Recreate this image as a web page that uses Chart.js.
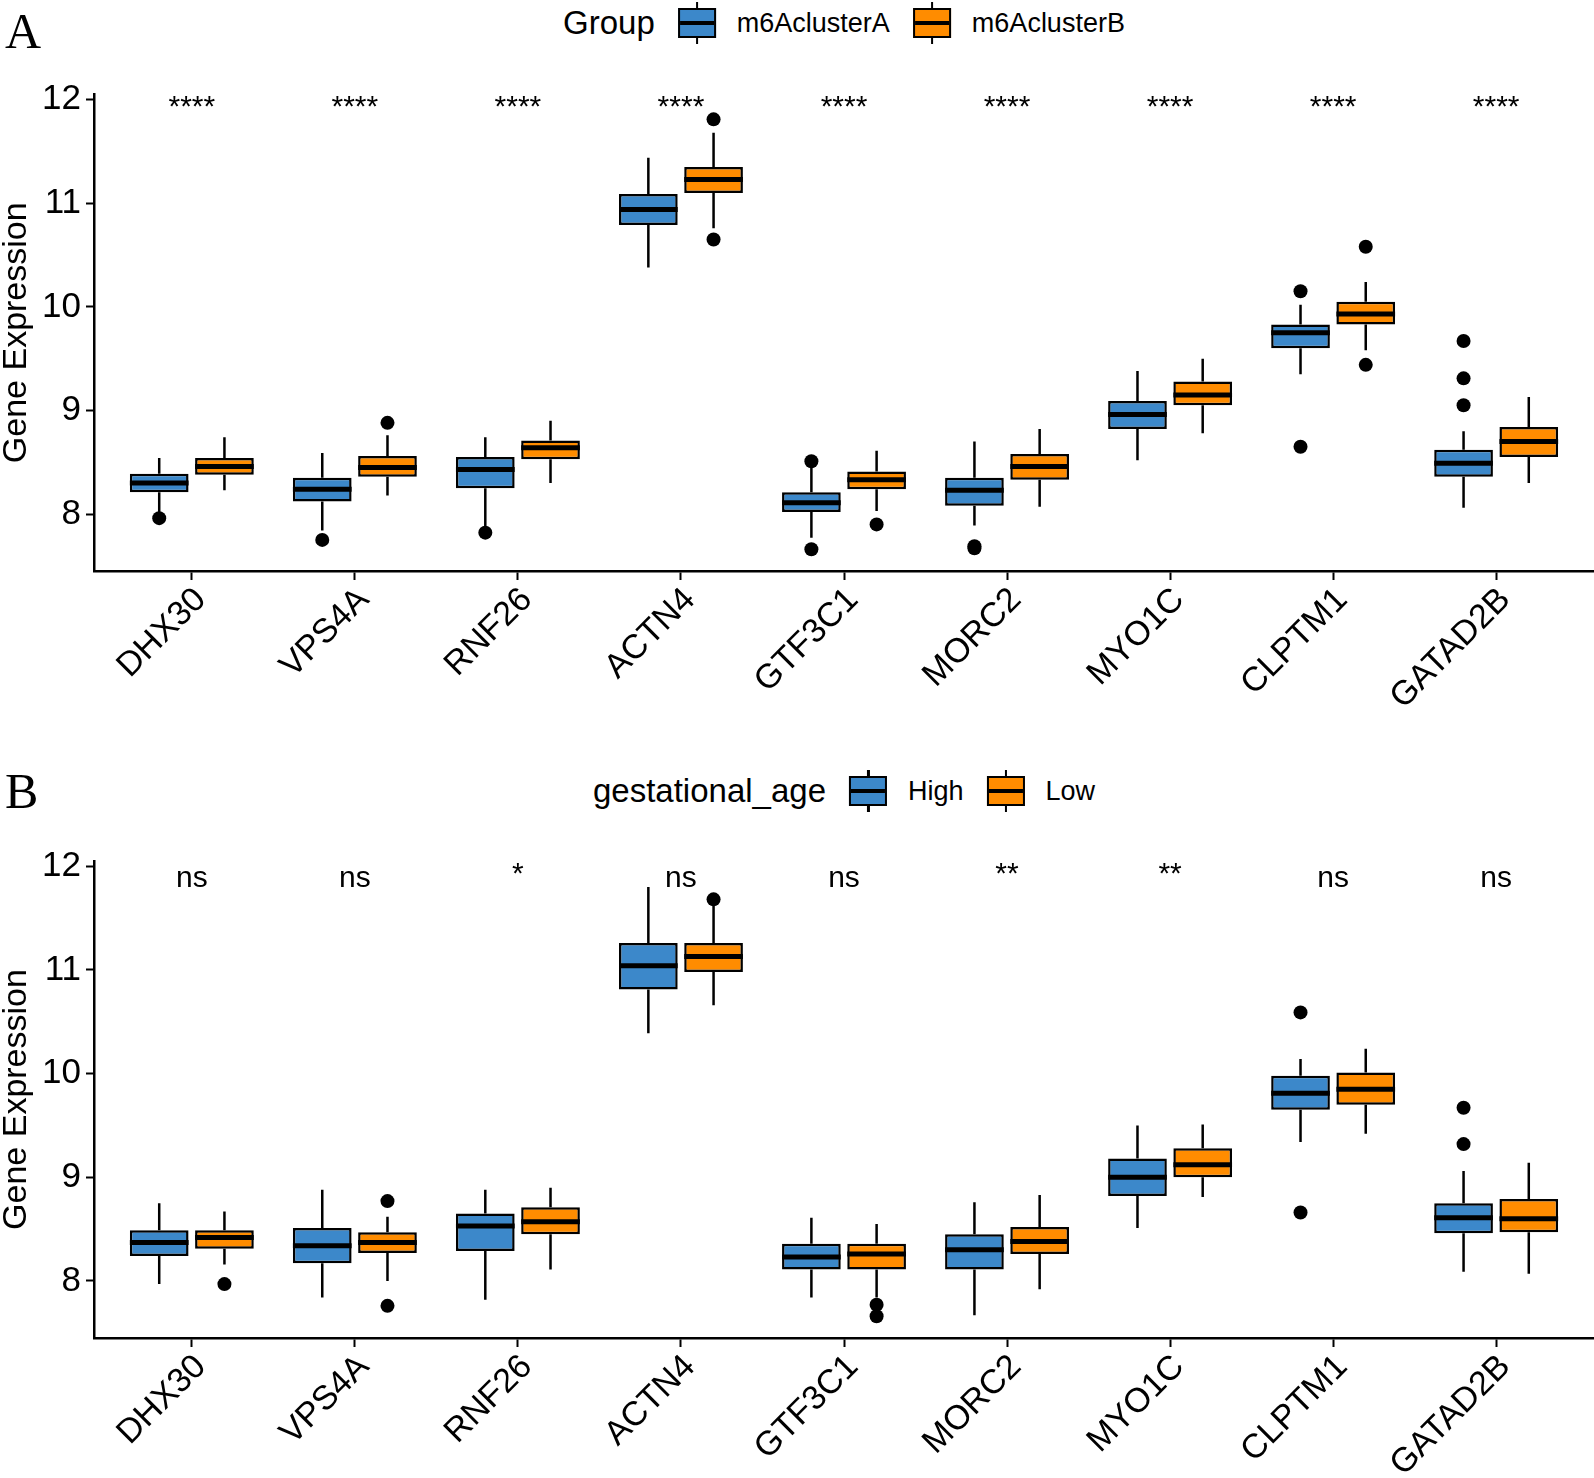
<!DOCTYPE html>
<html>
<head>
<meta charset="utf-8">
<script src="https://cdn.jsdelivr.net/npm/chart.js@4.4.0/dist/chart.umd.min.js"></script>
<style>
  body { margin: 0; background: #fff; font-family: 'Liberation Sans', Arial, sans-serif; }
  #page { position: relative; width: 1594px; height: 1478px; overflow: hidden; }
  canvas { position: absolute; left: 0; }
  .letter { position: absolute; left: 5px; font-family: 'Liberation Serif', 'Times New Roman', serif; font-size: 50px; line-height: 50px; color: #000; }
  .legend { position: absolute; left: 844px; transform: translateX(-50%); height: 46px; display: flex; align-items: center; white-space: nowrap; color: #000; }
  .legend .title { font-size: 33px; margin-right: 22px; }
  .legend .lab { font-size: 27px; margin-left: 20px; margin-right: 22px; }
  .legend .lab:last-child { margin-right: 0; }
  .key { position: relative; width: 40px; height: 46px; }
  .key .wh { position: absolute; left: 19px; width: 2.5px; top: 2px; bottom: 2px; background: #000; }
  .key .bx { position: absolute; left: 1px; right: 1px; top: 8px; bottom: 8px; border: 2.5px solid #000; box-sizing: border-box; }
  .key .md { position: absolute; left: 0; right: 0; top: 50%; height: 4px; margin-top: -2px; background: #000; }
</style>
</head>
<body>
<div id="page">
  <div class="letter" style="top:6px">A</div>
  <div class="legend" style="top:0px">
    <span class="title">Group</span>
    <div class="key"><div class="wh"></div><div class="bx" style="background:#3C88CA"><div class="md"></div></div></div>
    <span class="lab">m6AclusterA</span>
    <div class="key"><div class="wh"></div><div class="bx" style="background:#FF8C00"><div class="md"></div></div></div>
    <span class="lab">m6AclusterB</span>
  </div>
  <canvas id="chartA" width="1594" height="740" style="top:0px"></canvas>

  <div class="letter" style="top:766px">B</div>
  <div class="legend" style="top:768px">
    <span class="title">gestational_age</span>
    <div class="key"><div class="wh"></div><div class="bx" style="background:#3C88CA"><div class="md"></div></div></div>
    <span class="lab">High</span>
    <div class="key"><div class="wh"></div><div class="bx" style="background:#FF8C00"><div class="md"></div></div></div>
    <span class="lab">Low</span>
  </div>
  <canvas id="chartB" width="1594" height="738" style="top:740px"></canvas>
</div>

<script>
const genes = ['DHX30', 'VPS4A', 'RNF26', 'ACTN4', 'GTF3C1', 'MORC2', 'MYO1C', 'CLPTM1', 'GATAD2B'];
const yTicks = [8, 9, 10, 11, 12];

// panel A - m6AclusterA
const clusterA_min = [8.02, 7.84, 7.88, 10.38, 7.77, 7.89, 8.52, 9.35, 8.06];
const clusterA_q1  = [8.21, 8.12, 8.25, 10.79, 8.02, 8.08, 8.82, 9.60, 8.36];
const clusterA_med = [8.30, 8.24, 8.43, 10.94, 8.11, 8.23, 8.96, 9.75, 8.49];
const clusterA_q3  = [8.39, 8.35, 8.55, 11.09, 8.21, 8.35, 9.09, 9.83, 8.62];
const clusterA_max = [8.54, 8.59, 8.74, 11.44, 8.45, 8.70, 9.38, 10.02, 8.80];
const clusterA_out = [[7.96], [7.75], [7.82], [], [8.51, 7.66], [7.67, 7.69], [], [10.15, 8.65], [9.67, 9.31, 9.05]];

// panel A - m6AclusterB
const clusterB_min = [8.23, 8.18, 8.30, 10.76, 8.03, 8.07, 8.78, 9.58, 8.30];
const clusterB_q1  = [8.38, 8.36, 8.53, 11.10, 8.24, 8.33, 9.05, 9.83, 8.55];
const clusterB_med = [8.46, 8.45, 8.64, 11.23, 8.33, 8.46, 9.15, 9.93, 8.70];
const clusterB_q3  = [8.54, 8.56, 8.71, 11.35, 8.41, 8.58, 9.28, 10.05, 8.84];
const clusterB_max = [8.74, 8.76, 8.90, 11.68, 8.61, 8.82, 9.50, 10.24, 9.13];
const clusterB_out = [[], [8.88], [], [11.81, 10.65], [7.90], [], [], [10.58, 9.44], []];

// panel B - High
const high_min = [7.97, 7.84, 7.82, 10.39, 7.84, 7.67, 8.51, 9.34, 8.09];
const high_q1  = [8.24, 8.17, 8.29, 10.81, 8.11, 8.11, 8.82, 9.65, 8.46];
const high_med = [8.37, 8.34, 8.53, 11.04, 8.23, 8.30, 9.00, 9.81, 8.61];
const high_q3  = [8.49, 8.51, 8.65, 11.26, 8.36, 8.45, 9.18, 9.98, 8.75];
const high_max = [8.75, 8.88, 8.88, 11.80, 8.61, 8.76, 9.50, 10.14, 9.06];
const high_out = [[], [], [], [], [], [], [], [10.59, 8.66], [9.67, 9.32]];

// panel B - Low
const low_min = [8.16, 8.00, 8.11, 10.66, 7.84, 7.92, 8.81, 9.42, 8.07];
const low_q1  = [8.31, 8.27, 8.45, 10.98, 8.11, 8.26, 9.00, 9.70, 8.47];
const low_med = [8.42, 8.37, 8.57, 11.13, 8.26, 8.38, 9.12, 9.85, 8.60];
const low_q3  = [8.49, 8.47, 8.71, 11.26, 8.36, 8.52, 9.28, 10.01, 8.79];
const low_max = [8.67, 8.62, 8.90, 11.62, 8.55, 8.83, 9.51, 10.24, 9.14];
const low_out = [[7.97], [8.77, 7.76], [], [11.68], [7.77, 7.66], [], [], [], []];

const sigA = ['****', '****', '****', '****', '****', '****', '****', '****', '****'];
const sigB = ['ns', 'ns', '*', 'ns', 'ns', '**', '**', 'ns', 'ns'];
const SIG_Y = 11.80;

const BLUE = '#3C88CA';
const ORANGE = '#FF8C00';
const FONT = "'Liberation Sans', Arial, sans-serif";

function boxDataset(label, color, min, q1, med, q3, max, out) {
  return {
    label: label,
    backgroundColor: color,
    borderColor: '#000',
    borderWidth: 2.5,
    borderSkipped: false,
    categoryPercentage: 0.8,
    barPercentage: 0.9,
    data: genes.map((g, i) => ({ x: i + 1, y: [q1[i], q3[i]] })),
    q1: q1, q3: q3, median: med, whiskerLow: min, whiskerHigh: max, outliers: out
  };
}

// whiskers, medians, outliers and the significance labels
const boxExtras = {
  id: 'boxExtras',
  afterDatasetsDraw(chart, args, opts) {
    const ctx = chart.ctx;
    const y = chart.scales.y;
    const x = chart.scales.x;
    ctx.save();
    chart.data.datasets.forEach((ds, d) => {
      const meta = chart.getDatasetMeta(d);
      meta.data.forEach((bar, i) => {
        const cx = bar.x;
        const half = bar.width / 2;
        ctx.strokeStyle = '#000';
        ctx.lineCap = 'butt';
        ctx.lineWidth = 2.5;
        ctx.beginPath();
        ctx.moveTo(cx, y.getPixelForValue(ds.q3[i]));
        ctx.lineTo(cx, y.getPixelForValue(ds.whiskerHigh[i]));
        ctx.moveTo(cx, y.getPixelForValue(ds.q1[i]));
        ctx.lineTo(cx, y.getPixelForValue(ds.whiskerLow[i]));
        ctx.stroke();

        const ym = y.getPixelForValue(ds.median[i]);
        ctx.lineWidth = 5;
        ctx.beginPath();
        ctx.moveTo(cx - half, ym);
        ctx.lineTo(cx + half, ym);
        ctx.stroke();

        ctx.fillStyle = '#000';
        ds.outliers[i].forEach(v => {
          ctx.beginPath();
          ctx.arc(cx, y.getPixelForValue(v), 7, 0, Math.PI * 2);
          ctx.fill();
        });
      });
    });

    ctx.fillStyle = '#000';
    ctx.font = '30px ' + FONT;
    ctx.textAlign = 'center';
    ctx.textBaseline = 'alphabetic';
    opts.labels.forEach((t, i) => {
      // asterisks sit a little higher than letters in the original
      const lift = t.indexOf('*') >= 0 ? 4 : 0;
      ctx.fillText(t, x.getPixelForValue(i + 1), y.getPixelForValue(SIG_Y) - lift);
    });
    ctx.restore();
  }
};

function makeChart(id, datasets, sig, topPad, axisBottom, height) {
  const ctx = document.getElementById(id).getContext('2d');
  return new Chart(ctx, {
    type: 'bar',
    data: { datasets: datasets },
    plugins: [boxExtras],
    options: {
      responsive: false,
      animation: false,
      devicePixelRatio: 1,
      layout: { padding: { top: topPad, left: 0, right: 0, bottom: 0 } },
      plugins: {
        legend: { display: false },
        tooltip: { enabled: false },
        boxExtras: { labels: sig }
      },
      scales: {
        x: {
          type: 'linear',
          min: 0.4,
          max: 9.6,
          offset: false,
          afterBuildTicks: s => { s.ticks = genes.map((g, i) => ({ value: i + 1 })); },
          afterFit: s => { s.height = height - axisBottom; },
          grid: { display: true, offset: false, drawOnChartArea: false, tickLength: 9, tickWidth: 2, tickColor: '#000' },
          border: { display: true, color: '#000', width: 2.5 },
          ticks: {
            color: '#000',
            font: { size: 34, family: FONT },
            minRotation: 45,
            maxRotation: 45,
            autoSkip: false,
            padding: 0,
            labelOffset: 9,
            callback: v => genes[v - 1]
          }
        },
        y: {
          type: 'linear',
          min: 7.45,
          max: 12.05,
          stacked: false,
          afterBuildTicks: s => { s.ticks = yTicks.map(v => ({ value: v })); },
          afterFit: s => { s.width = 94; },
          grid: { display: true, drawOnChartArea: false, tickLength: 8, tickWidth: 2, tickColor: '#000' },
          border: { display: true, color: '#000', width: 2.5 },
          ticks: { color: '#000', font: { size: 35, family: FONT }, padding: 5 },
          title: {
            display: true,
            text: 'Gene Expression',
            color: '#000',
            font: { size: 34, family: FONT, lineHeight: 1 },
            padding: 0
          }
        }
      }
    }
  });
}

makeChart('chartA', [
  boxDataset('m6AclusterA', BLUE, clusterA_min, clusterA_q1, clusterA_med, clusterA_q3, clusterA_max, clusterA_out),
  boxDataset('m6AclusterB', ORANGE, clusterB_min, clusterB_q1, clusterB_med, clusterB_q3, clusterB_max, clusterB_out)
], sigA, 94.5, 571, 740);

makeChart('chartB', [
  boxDataset('High', BLUE, high_min, high_q1, high_med, high_q3, high_max, high_out),
  boxDataset('Low', ORANGE, low_min, low_q1, low_med, low_q3, low_max, low_out)
], sigB, 121, 598, 738);
</script>
</body>
</html>
